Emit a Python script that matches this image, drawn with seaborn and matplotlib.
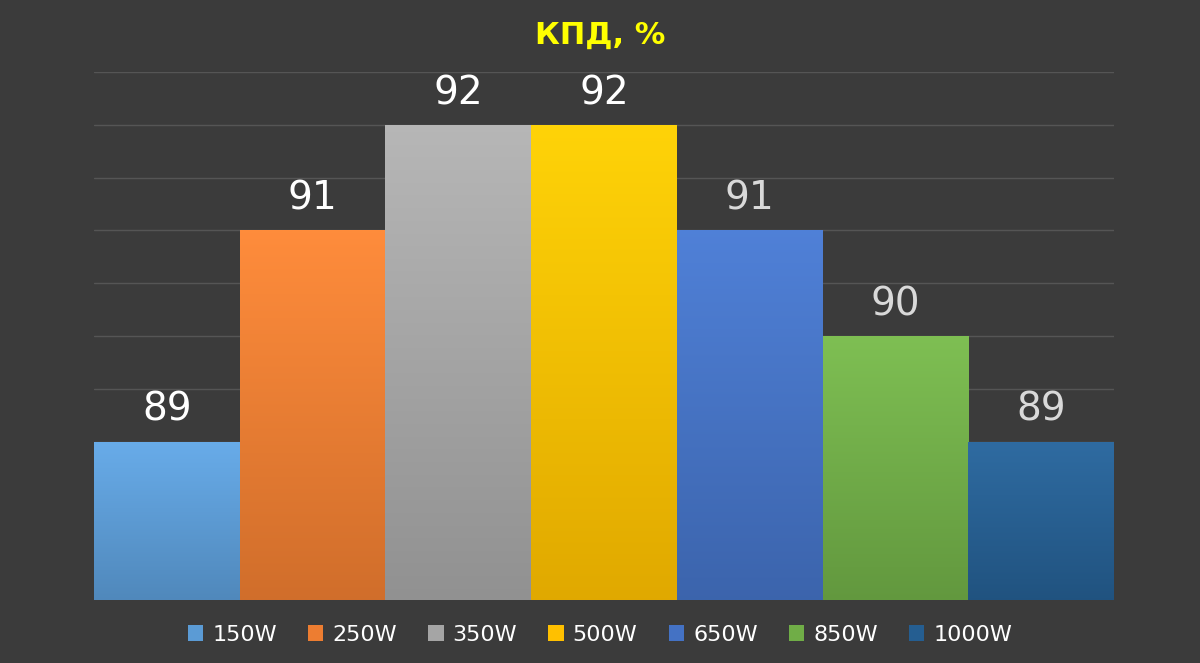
import numpy as np
import pandas as pd
import seaborn as sns
import matplotlib.pyplot as plt
from matplotlib.patches import Patch
from matplotlib.colors import LinearSegmentedColormap, to_rgb

categories = ['150W', '250W', '350W', '500W', '650W', '850W', '1000W']
values = [89, 91, 92, 92, 91, 90, 89]
colors = ['#5b9bd5', '#ed7d31', '#a5a5a5', '#ffc000', '#4472c4', '#70ad47', '#255e91']
label_colors = ['white', 'white', 'white', 'white', '#d9d9d9', '#d9d9d9', '#d9d9d9']

bg = '#3b3b3b'
sns.set_style('dark')
plt.rcParams['font.family'] = ['DejaVu Sans']

fig = plt.figure(figsize=(12, 6.63), dpi=100, facecolor=bg)
ax = fig.add_axes([94 / 1200, 1 - 600 / 663, 1020 / 1200, 528 / 663])
ax.set_facecolor(bg)

df = pd.DataFrame({'cat': categories, 'val': values})
sns.barplot(data=df, x='cat', y='val', hue='cat', palette=colors, width=1.0,
            legend=False, ax=ax, zorder=2, linewidth=0, edgecolor='none')
ax.set_ylim(87.5, 92.5)
ax.set_xlim(-0.5, len(categories) - 0.5)

# vertical gradient fill on each bar
for patch, c, v, lc in zip(ax.patches, colors, values, label_colors):
    patch.set_edgecolor('none')
    r, g, b = to_rgb(c)
    light = tuple(min(1, x * 1.06 + 0.03) for x in (r, g, b))
    dark = tuple(x * 0.88 for x in (r, g, b))
    cmap = LinearSegmentedColormap.from_list('g', [dark, light])
    x0, w = patch.get_x(), patch.get_width()
    grad = np.linspace(0, 1, 256).reshape(-1, 1)
    im = ax.imshow(grad, cmap=cmap, origin='lower', aspect='auto',
                   extent=[x0, x0 + w, 87.5, v], zorder=3)
    im.set_clip_path(patch)
    ax.text(x0 + w / 2, v + 0.12, str(v), ha='center', va='bottom',
            color=lc, fontsize=28, zorder=4)

ax.set_yticks(np.arange(87.5, 92.51, 0.5))
ax.grid(axis='y', color='#555555', linewidth=1, zorder=0)
ax.grid(axis='x', visible=False)
ax.tick_params(left=False, bottom=False, labelleft=False, labelbottom=False)
ax.set_xlabel('')
ax.set_ylabel('')
for s in ax.spines.values():
    s.set_visible(False)

fig.text(0.5, 1 - 35 / 663, 'КПД, %', ha='center', va='center',
         color='#ffff00', fontsize=22, fontweight='bold')

handles = [Patch(facecolor=c, edgecolor='none', label=l) for c, l in zip(colors, categories)]
fig.legend(handles=handles, loc='center', bbox_to_anchor=(0.5, 1 - 635 / 663),
           ncol=7, frameon=False, fontsize=16, labelcolor='white',
           handlelength=0.7, handleheight=0.7, handletextpad=0.4, columnspacing=1.4)

fig.savefig('out.png', facecolor=bg)
